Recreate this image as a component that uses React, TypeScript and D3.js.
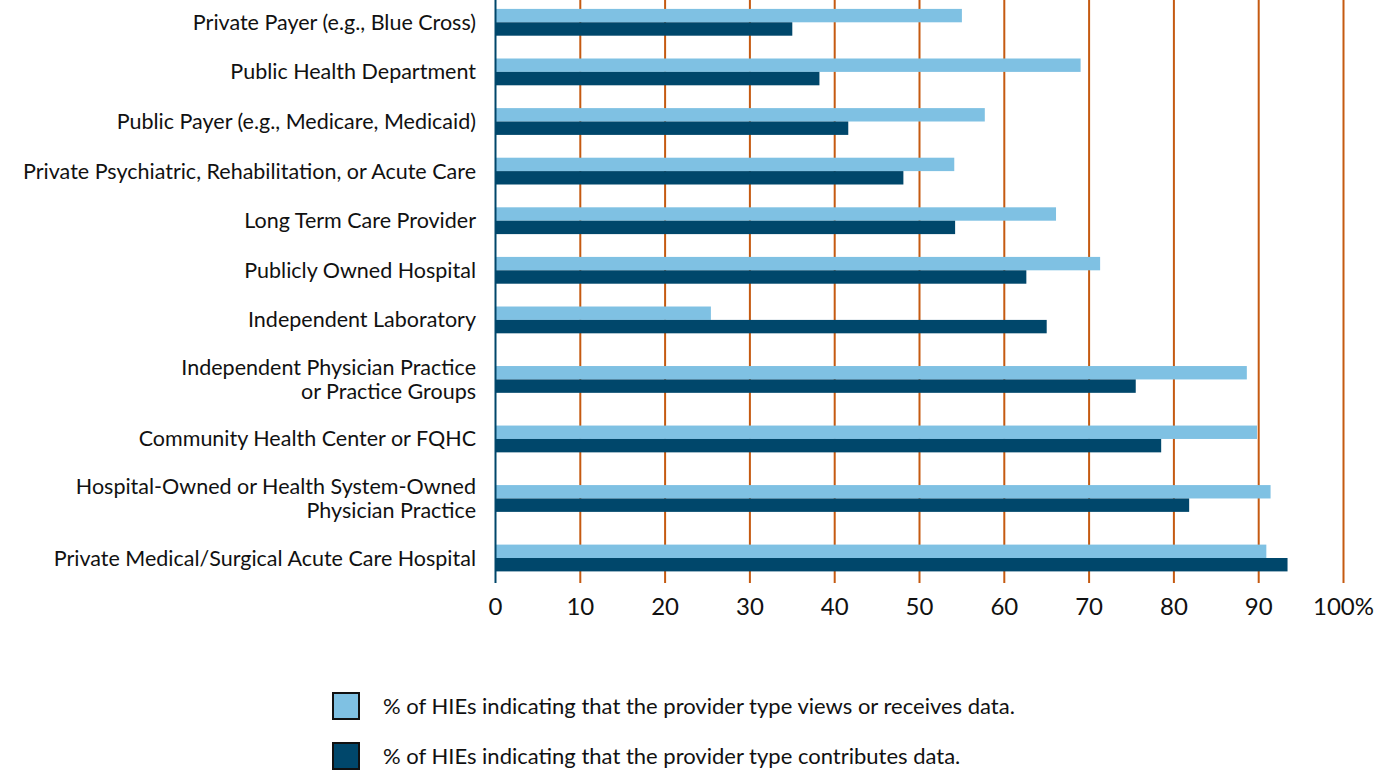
import React from "react";
import * as d3 from "d3";

const categories: string[][] = [
  ["Private Payer (e.g., Blue Cross)"],
  ["Public Health Department"],
  ["Public Payer (e.g., Medicare, Medicaid)"],
  ["Private Psychiatric, Rehabilitation, or Acute Care"],
  ["Long Term Care Provider"],
  ["Publicly Owned Hospital"],
  ["Independent Laboratory"],
  ["Independent Physician Practice", "or Practice Groups"],
  ["Community Health Center or FQHC"],
  ["Hospital-Owned or Health System-Owned", "Physician Practice"],
  ["Private Medical/Surgical Acute Care Hospital"],
];

const viewsData: number[] = [55, 69, 57.7, 54.1, 66.1, 71.3, 25.4, 88.6, 89.8, 91.4, 90.9];
const contributesData: number[] = [35, 38.2, 41.6, 48.1, 54.2, 62.6, 65, 75.5, 78.5, 81.8, 93.4];

const xTicks: number[] = [0, 10, 20, 30, 40, 50, 60, 70, 80, 90, 100];
const legendLabels: string[] = [
  "% of HIEs indicating that the provider type views or receives data.",
  "% of HIEs indicating that the provider type contributes data.",
];

const LIGHT = "#7fc1e3";
const DARK = "#00476b";
const GRID = "#c55a11";
const FONT = "Lato, 'Open Sans', sans-serif";

export default function App() {
  const width = 1391;
  const height = 771;
  const x = d3.scaleLinear().domain([0, 100]).range([495.5, 1343.5]);

  // cumulative slot positions: gaps next to two-line labels are wider
  const offsets: number[] = [0];
  for (let i = 1; i < categories.length; i++) {
    const extra = categories[i].length > 1 || categories[i - 1].length > 1 ? 1.2 : 1;
    offsets.push(offsets[i - 1] + extra);
  }
  const y = d3
    .scaleLinear()
    .domain([0, offsets[offsets.length - 1]])
    .range([22.3, 558]);

  const barH = 13.4;

  return (
    <svg
      width={width}
      height={height}
      style={{ position: "absolute", left: 0, top: 0, background: "#fff" }}
      fontFamily={FONT}
    >
      {xTicks.slice(1).map((t) => (
        <line key={"g" + t} x1={x(t)} x2={x(t)} y1={0} y2={583} stroke={GRID} strokeWidth={2} />
      ))}
      {categories.map((c, i) => {
        const cy = y(offsets[i]);
        return (
          <g key={"b" + i}>
            <rect x={x(0)} y={cy - barH} width={x(viewsData[i]) - x(0)} height={barH} fill={LIGHT} />
            <rect x={x(0)} y={cy} width={x(contributesData[i]) - x(0)} height={barH} fill={DARK} />
          </g>
        );
      })}
      <line x1={x(0)} x2={x(0)} y1={0} y2={583} stroke={DARK} strokeWidth={2} />
      {categories.map((c, i) => {
        const cy = y(offsets[i]);
        const lh = 24;
        const start = cy - ((c.length - 1) * lh) / 2;
        return (
          <text key={"l" + i} textAnchor="end" fontSize={21.5} fill="#111">
            {c.map((line, j) => (
              <tspan key={j} x={476} y={start + j * lh} dy="0.35em">
                {line}
              </tspan>
            ))}
          </text>
        );
      })}
      {xTicks.map((t) => (
        <text key={"t" + t} x={x(t)} y={607} dy="0.35em" textAnchor="middle" fontSize={24} fill="#111">
          {t === 100 ? "100%" : t}
        </text>
      ))}
      {legendLabels.map((l, i) => (
        <g key={"lg" + i}>
          <rect
            x={333}
            y={693 + i * 50}
            width={26}
            height={26}
            fill={i === 0 ? LIGHT : DARK}
            stroke="#111"
            strokeWidth={2}
          />
          <text x={383} y={706 + i * 50} dy="0.35em" fontSize={22} fill="#111">
            {l}
          </text>
        </g>
      ))}
    </svg>
  );
}
